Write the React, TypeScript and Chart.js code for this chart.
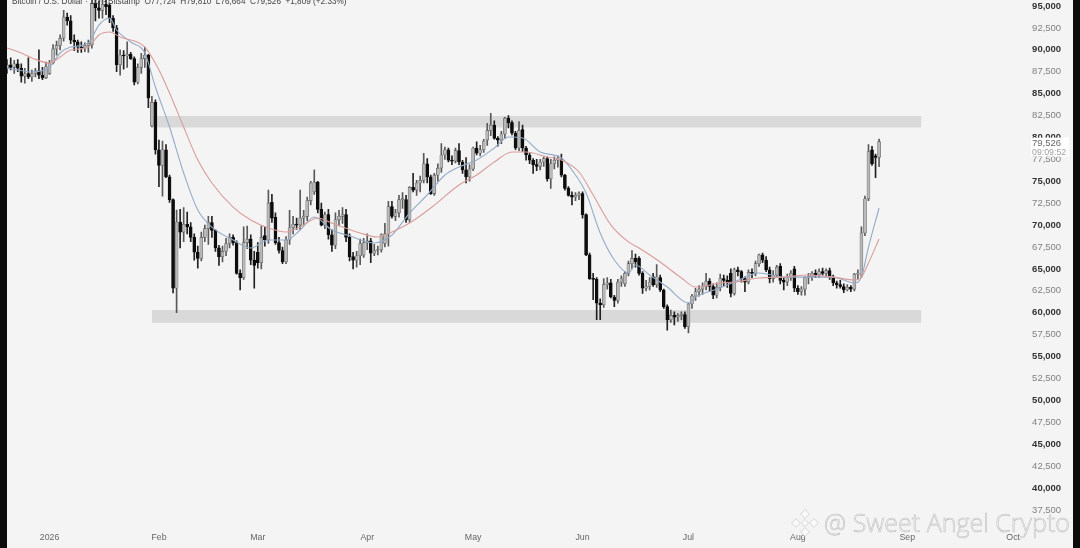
import React, { useEffect, useRef } from "react";
import { Chart, registerables } from "chart.js";

Chart.register(...registerables);

const days = Array.from({ length: 290 }, (_, i) => i);
const tickDays = [12, 43, 71, 102, 132, 163, 193, 224, 255, 285];
const tickNames = ["2026", "Feb", "Mar", "Apr", "May", "Jun", "Jul", "Aug", "Sep", "Oct"];
const tickPrices = [95000,92500,90000,87500,85000,82500,80000,77500,75000,72500,70000,67500,65000,62500,60000,57500,55000,52500,50000,47500,45000,42500,40000,37500];

const opens = [
  87900,88300,88000,88400,87900,87000,87300,86900,87300,87600,
  87100,86800,87300,88500,90100,90500,91350,93750,93300,91100,
  90900,90300,90200,90500,90600,95300,94800,94500,95200,95100,
  93600,92500,88300,89400,89300,89500,89000,86300,88000,89000,
  89400,81300,84000,78600,76800,78600,75500,72900,62800,70350,
  69200,70100,69800,68600,66900,66200,68600,69600,70300,69400,
  67400,66400,67000,67900,68600,68000,64500,64000,68000,68400,
  66000,66900,65700,68800,68300,72600,70900,68000,67100,65800,
  68300,69700,70100,70000,70800,71000,72800,73800,74900,71800,
  70000,71200,68900,67700,70600,71000,71200,68600,66400,66000,
  66500,66600,68000,68200,66800,67100,67200,67900,69000,72100,
  71000,71400,72900,72900,70600,74300,74000,74800,75100,77000,
  75500,73600,75700,76500,78000,78600,77400,77300,78500,77200,
  76300,75500,76400,78800,78200,78600,79700,80800,81400,79900,
  79700,80400,82200,81700,80500,78800,80900,78800,78000,77400,
  76900,76700,77200,77600,75300,77000,77400,77500,75700,74200,
  73400,73200,73400,73600,71200,66600,63900,63800,61100,60900,
  63200,63400,61800,61400,63500,63300,64500,65600,66200,66200,
  64500,62800,63000,64100,63200,64000,62600,60700,59200,59700,
  59500,59700,59800,58400,61000,61900,62400,62700,63000,63600,
  63000,62000,62900,63900,63700,64500,62200,64900,64700,63900,
  63500,64600,64500,65600,66600,66000,64900,63900,64300,65300,
  63700,63500,64000,65000,62800,62400,62700,64000,64100,64500,
  64300,64700,64500,64800,64100,63400,63200,63000,62600,62900,
  62700,64400,64300,69100,73000,78600,77900,77724,
];
const highs = [
  88900,89100,88800,88900,88400,87900,89100,87700,87900,90000,
  88000,88600,88800,90600,91000,91700,94500,94200,93900,91700,
  91100,90900,90800,91100,95700,96500,95600,96000,96000,95300,
  93900,92800,90000,89900,90900,89700,89200,88400,89600,90300,
  89500,84700,84300,79700,79600,79200,75700,73000,71720,71800,
  72000,71500,70300,69000,67600,69200,70000,71000,71000,69500,
  67700,67600,68500,69000,68900,68200,64900,69800,69900,68900,
  67000,68000,69900,69800,74000,73500,71400,68600,67500,68700,
  71700,71000,70800,74000,71700,73200,75000,76300,75000,72500,
  71500,71800,69500,71400,71700,72000,71800,69000,66900,67000,
  68400,68500,69000,68500,67800,67600,69000,70200,72700,72700,
  71800,73400,73700,73400,74400,75900,75100,75600,78200,77600,
  75700,75900,77000,79300,78900,78800,77900,78800,79300,77400,
  77700,76900,78900,79500,79100,79800,81600,82750,81900,80100,
  80700,82300,82500,81900,80700,81800,81400,79000,78200,77600,
  77500,77500,77800,77800,77500,77800,77900,78100,75800,74400,
  73800,73700,73800,73800,71300,66800,64500,64000,61600,63900,
  64000,63800,62000,63800,64200,64700,65900,67100,66700,66400,
  64700,63700,64000,64500,65500,64300,62700,60900,60300,60100,
  59900,60100,60100,61100,62100,62800,63100,63400,64500,63900,
  63300,63400,64400,64300,64200,65000,65100,65200,64800,64100,
  64900,65000,65900,66700,66800,66400,65200,64800,65400,65600,
  64000,64400,64800,65300,63100,63000,64100,64500,64700,64900,
  65000,65100,65000,65100,64300,63600,63700,63300,63200,63100,
  64500,64900,69800,73300,79200,79000,78100,79810,
];
const lows = [
  87300,87700,87300,87500,86300,86200,86700,86400,86900,86700,
  86600,86700,87200,88400,89400,90000,91000,92800,90700,89900,
  89700,89700,89800,89700,90200,93300,93600,93600,94000,93100,
  92100,87500,87100,87800,88000,88900,86000,86100,87300,88000,
  83400,81200,78100,74400,73300,75400,72600,62250,60000,67400,
  68100,69000,68100,66000,65100,65900,68100,67800,68600,67000,
  65400,65800,66500,67400,67700,64400,62600,63800,67300,65500,
  62800,65100,65000,67600,67900,70300,67800,66800,65600,65600,
  67800,69000,69500,69500,70000,70500,72300,73500,71400,69900,
  69600,68400,67000,67300,69900,70200,68100,65900,65000,65200,
  65500,66300,67200,65700,66500,66600,66900,67500,67600,70800,
  70500,70900,71900,70300,70300,73800,73400,73800,74800,74800,
  73500,73400,75000,76000,77500,77200,76900,77100,76900,75900,
  74800,75000,76200,78000,77900,78300,79100,80200,79800,79000,
  79300,79900,81100,80300,78600,78500,78400,77400,77000,75900,
  76200,76300,76700,75000,74200,76400,76600,75500,74000,73300,
  72300,72800,72900,70800,66500,63800,61500,59200,59200,60600,
  62700,61700,60700,61100,63000,63000,64200,65000,65200,64300,
  62200,62500,62600,63000,62900,62400,60500,58000,58900,58600,
  59000,59200,58200,57700,60500,61400,61900,62100,62600,62400,
  61600,61700,62500,63100,62900,61800,62000,64200,63500,62400,
  63300,64000,64200,65300,65700,64700,63400,63500,64000,63300,
  62600,63100,63700,62400,62100,62000,62000,63300,63700,64000,
  64000,64300,64100,63800,63100,62800,62800,62300,62500,62400,
  62500,63900,64000,68800,72800,76800,75400,76664,
];
const closes = [
  88300,88000,88400,87900,87000,87300,86900,87300,87600,87100,
  86800,88100,88500,90100,90500,91300,93750,93300,91100,90900,
  90300,90200,90500,90700,95300,94800,94500,95200,94900,93600,
  92500,88300,89400,89300,89500,89000,86300,88000,89000,89400,
  84500,84000,78600,76800,78600,75500,72900,62800,70350,69200,
  70100,69800,68600,66900,66200,68600,69600,70300,69400,67400,
  66400,67000,67900,68600,68000,64500,64000,68000,68400,66000,
  65400,65700,68600,68300,72500,70800,68000,67100,65800,68300,
  69700,70100,70000,70800,71000,72800,74800,74900,71800,70000,
  71200,68900,67700,70600,71000,71200,68600,66400,66000,66500,
  67900,68000,68200,66800,67100,67200,68900,69000,72100,71000,
  71400,72900,73000,70600,74300,74000,74800,75100,77000,75500,
  73600,75700,76500,78000,78600,77400,77300,78500,77200,76300,
  75500,76400,78800,78200,78600,79600,80800,81400,79900,79700,
  80400,82200,81700,80500,78800,80800,78800,78000,77400,76900,
  76700,77200,77600,75300,77000,77400,77600,75700,74200,73400,
  73200,73400,73600,71200,66600,63900,63800,61100,60900,63200,
  63400,61800,61400,63500,63900,64500,65600,66200,65800,64500,
  62800,63000,63500,63200,64100,62600,60700,59200,59700,59500,
  59700,59800,58400,61000,61900,62400,62700,63000,63600,63000,
  62000,62900,63900,63700,63400,62200,64900,64700,63900,63500,
  64600,64500,65600,66600,66000,64900,63900,64300,65200,63700,
  63500,64000,64500,62800,62400,62700,64000,64100,64500,64300,
  64700,64500,64800,64100,63400,63200,63000,62600,62900,62700,
  64400,64500,69100,73000,78400,77000,77717,79526,
];

const slowDays = [0,4,7,12,15,18,23,26,29,32,39,43,46,50,54,58,64,69,74,79,83,88,92,100,105,109,114,120,128,133,138,143,147,153,157,162,166,171,176,179,185,191,195,202,206,213,220,227,234,240,242,244,247];
const slowValues = [90210,89640,89070,88500,89180,89980,90320,91690,92030,91460,90320,87700,85070,81190,77430,74800,72060,70580,69670,69210,69780,70810,70240,69100,68640,69210,70240,71950,74580,75720,77200,78340,78340,77770,77430,76060,73440,70020,68080,67390,65790,63960,62930,63390,63500,63960,64070,64300,64070,63740,64070,65680,68410];
const fastDays = [0,3,7,12,15,18,23,26,29,31,35,39,42,46,50,54,58,64,69,74,79,83,87,92,98,100,104,109,114,119,124,128,133,138,142,146,151,157,161,164,168,172,176,178,182,187,193,195,202,206,213,220,227,234,240,242,244,247];
const fastValues = [87900,87700,87470,88040,89640,90320,90780,92830,93630,92260,90890,89640,85760,81190,75950,71720,69780,68300,67390,68300,68300,69440,70920,69440,68640,68300,67960,68870,71380,73440,75720,76630,77430,78800,80050,79940,78340,77660,75720,73660,69100,66020,64540,65450,64300,62930,61110,61790,62820,63500,64540,64070,64070,64070,63390,64070,67500,71950];

const upperZone = [81140, 82450];
const lowerZone = [58860, 60310];
const zoneDays = [41, 259];
const axisMax = 95685;
const axisMin = 35668;

const titleText = "Bitcoin / U.S. Dollar · 1D · Bitstamp  O77,724  H79,810  L76,664  C79,526  +1,809 (+2.33%)";
const priceText = "79,526";
const timerText = "09:09:52";
const markText = "@ Sweet Angel Crypto";

const zoneLine = (value: number, fill: string | boolean) => ({
  type: "line" as const,
  data: zoneDays.map((d) => ({ x: d, y: value })),
  borderWidth: 0,
  pointRadius: 0,
  backgroundColor: "#d9d9d9",
  fill,
  order: 10,
});

const overlay = {
  id: "overlay",
  afterDraw(chart: any) {
    const { ctx, scales } = chart;
    ctx.save();
    ctx.textBaseline = "alphabetic";
    ctx.textAlign = "left";
    ctx.font = "8.2px 'Liberation Sans'";
    ctx.fillStyle = "#444";
    ctx.fillText(titleText, 12, 3.5);

    const y = scales.y.getPixelForValue(closes[closes.length - 1]);
    ctx.fillStyle = "#ffffff";
    ctx.fillRect(1031, y - 4, 38, 19);
    ctx.font = "9.5px 'Liberation Sans'";
    ctx.fillStyle = "#666";
    ctx.fillText(priceText, 1032, y + 4);
    ctx.fillStyle = "#a0a0a0";
    ctx.font = "8.8px 'Liberation Sans'";
    ctx.fillText(timerText, 1032, y + 13);

    // watermark
    ctx.font = "300 25px 'Open Sans'";
    ctx.lineWidth = 0.6;
    ctx.strokeStyle = "#c0c0c0";
    ctx.fillStyle = "#f9f9f9";
    ctx.fillText(markText, 824, 532);
    ctx.strokeText(markText, 824, 532);

    const cx = 805;
    const cy = 523;
    const diamonds: [number, number, number][] = [
      [0, -9, 4.4], [-9, 0, 4.4], [9, 0, 4.4], [0, 9, 4.4], [0, 0, 3.6],
    ];
    diamonds.forEach(([dx, dy, r]) => {
      ctx.beginPath();
      ctx.moveTo(cx + dx, cy + dy - r);
      ctx.lineTo(cx + dx + r, cy + dy);
      ctx.lineTo(cx + dx, cy + dy + r);
      ctx.lineTo(cx + dx - r, cy + dy);
      ctx.closePath();
      ctx.fill();
      ctx.stroke();
    });
    ctx.restore();
  },
};

const isMajor = (c: any) => !!c.tick && c.tick.value % 5000 === 0;

export default function App() {
  const ref = useRef<HTMLCanvasElement | null>(null);

  useEffect(() => {
    if (!ref.current) return;
    const up = closes.map((c, i) => c >= opens[i]);
    const chart = new Chart(ref.current, {
      type: "bar",
      data: {
        labels: days,
        datasets: [
          zoneLine(upperZone[1], "+1"),
          zoneLine(upperZone[0], false),
          zoneLine(lowerZone[1], "+1"),
          zoneLine(lowerZone[0], false),
          {
            type: "bar",
            data: closes.map((_, i) => [lows[i], highs[i]]),
            barThickness: 1,
            backgroundColor: up.map((u) => (u ? "#5a5a5a" : "#222222")),
            grouped: false,
            order: 5,
          },
          {
            type: "bar",
            data: closes.map((c, i) => [opens[i], c]),
            barThickness: 3,
            minBarLength: 1,
            backgroundColor: up.map((u) => (u ? "#b9b9b9" : "#0d0d0d")),
            borderColor: up.map((u) => (u ? "#5f5f5f" : "#0d0d0d")),
            borderWidth: 0.6,
            borderSkipped: false,
            grouped: false,
            order: 4,
          },
          {
            type: "line",
            data: slowDays.map((d, i) => ({ x: d, y: slowValues[i] })),
            borderColor: "#d99c9a",
            borderWidth: 1.1,
            pointRadius: 0,
            cubicInterpolationMode: "monotone",
            fill: false,
            order: 1,
          },
          {
            type: "line",
            data: fastDays.map((d, i) => ({ x: d, y: fastValues[i] })),
            borderColor: "#93abc9",
            borderWidth: 1.1,
            pointRadius: 0,
            cubicInterpolationMode: "monotone",
            fill: false,
            order: 2,
          },
        ] as any,
      },
      options: {
        responsive: false,
        animation: false,
        layout: { padding: { left: 5.4, right: 0, top: 0, bottom: 0 } },
        plugins: { legend: { display: false }, title: { display: false }, tooltip: { enabled: false } },
        scales: {
          x: {
            type: "category",
            offset: true,
            grid: { display: false, drawTicks: false },
            border: { display: false },
            afterFit: (s: any) => { s.height = 22; s.paddingLeft = 0; s.paddingRight = 0; },
            ticks: {
              autoSkip: false,
              maxRotation: 0,
              padding: 6,
              color: (c: any) => (c.index === 12 ? "#333" : "#666"),
              font: (c: any) => ({
                family: "'Liberation Sans'",
                size: 8.8,
                weight: c.index === 12 ? "bold" : "normal",
              }),
              callback: (v: any) => {
                const k = tickDays.indexOf(Number(v));
                return k >= 0 ? tickNames[k] : null;
              },
            },
          },
          y: {
            position: "right",
            min: axisMin,
            max: axisMax,
            grid: { display: false, drawTicks: false },
            border: { display: false },
            afterBuildTicks: (s: any) => { s.ticks = tickPrices.map((value) => ({ value })); },
            afterFit: (s: any) => { s.width = 50.9; s.paddingTop = 0; s.paddingBottom = 0; },
            ticks: {
              padding: 3,
              color: (c: any) => (isMajor(c) ? "#333" : "#808080"),
              font: (c: any) => ({
                family: "'Liberation Sans'",
                size: 9.5,
                weight: isMajor(c) ? "bold" : "normal",
              }),
              callback: (v: any) => Number(v).toLocaleString("en-US"),
            },
          },
        },
      } as any,
      plugins: [overlay],
    });
    return () => chart.destroy();
  }, []);

  return (
    <div style={{ position: "fixed", inset: 0, background: "#f4f4f4", overflow: "hidden" }}>
      <canvas
        ref={ref}
        width={1080}
        height={548}
        style={{ position: "absolute", left: 0, top: 0, width: 1080, height: 548, filter: "blur(0.45px)" }}
      />
      <div style={{ position: "absolute", left: 0, top: 0, bottom: 0, width: 7, background: "#0b0b0b" }} />
      <div style={{ position: "absolute", right: 0, top: 0, bottom: 0, width: 7, background: "#0b0b0b" }} />
    </div>
  );
}
